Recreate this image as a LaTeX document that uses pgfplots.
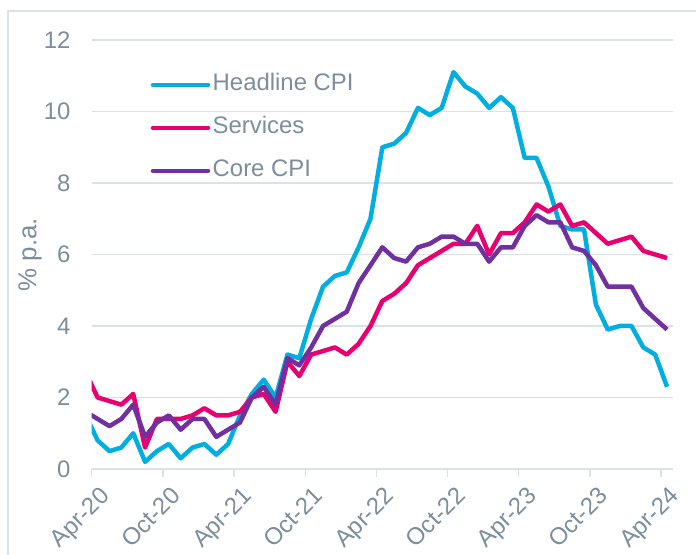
\documentclass[border=0pt]{standalone}
\usepackage{fontspec}
\setmainfont{Liberation Sans}
\usepackage{pgfplots}
\pgfplotsset{compat=1.18}
\definecolor{headc}{RGB}{0,174,224}
\definecolor{servc}{RGB}{232,0,112}
\definecolor{corec}{RGB}{112,48,160}
\definecolor{txtc}{RGB}{125,141,156}
\definecolor{gridc}{RGB}{220,225,230}
\begin{document}
\begin{tikzpicture}[x=1bp,y=1bp]
\begin{axis}[
  at={(91.7bp,86bp)}, anchor=south west,
  scale only axis, width=581.3bp, height=429bp,
  xmin=0, xmax=49, ymin=0, ymax=12,
  xtick={0,6,...,48},
  xticklabels={Apr-20,Oct-20,Apr-21,Oct-21,Apr-22,Oct-22,Apr-23,Oct-23,Apr-24},
  ytick={0,2,...,12},
  axis x line*=bottom, axis y line*=left,
  x axis line style={draw=gridc, line width=1.3bp},
  y axis line style={draw=none},
  xtick pos=bottom, xtick align=outside,
  major tick length=8bp,
  x tick style={draw=gridc, line width=1.3bp},
  y tick style={draw=none},
  ymajorgrids, grid style={draw=gridc, line width=1.3bp},
  /pgf/number format/assume math mode=true,
  tick label style={font=\fontsize{24}{28}\selectfont, text=txtc},
  yticklabel style={anchor=east, inner sep=0pt, xshift=-21bp},
  xticklabel style={rotate=45, anchor=north east, inner sep=0pt, xshift=-1bp, yshift=-11bp},
  ylabel={\% p.a.},
  every axis y label/.style={at={(axis description cs:-0.106,0.5)}, rotate=90, anchor=center, font=\fontsize{26}{30}\selectfont, text=txtc},
  legend style={draw=none, fill=none, at={(axis description cs:0.1012,0.9214)}, anchor=north west,
    inner sep=0pt, row sep=21bp, font=\fontsize{24}{28}\selectfont, text=txtc,
    nodes={inner sep=0pt, text height=17bp, text depth=5bp}},
  legend cell align=left,
  legend image code/.code={\draw[#1, line width=4.5bp, line cap=round] (0bp,0bp) -- (55bp,0bp);},
  /tikz/every odd column/.append style={column sep=2.5bp},
  every axis plot/.append style={line width=4.5bp, line join=round, no markers},
]
\addplot[headc] coordinates {
(-0.5,1.5)(0.5,0.8)(1.5,0.5)(2.5,0.6)(3.5,1.0)(4.5,0.2)(5.5,0.5)(6.5,0.7)(7.5,0.3)(8.5,0.6)
(9.5,0.7)(10.5,0.4)(11.5,0.7)(12.5,1.5)(13.5,2.1)(14.5,2.5)(15.5,2.0)(16.5,3.2)(17.5,3.1)(18.5,4.2)
(19.5,5.1)(20.5,5.4)(21.5,5.5)(22.5,6.2)(23.5,7.0)(24.5,9.0)(25.5,9.1)(26.5,9.4)(27.5,10.1)(28.5,9.9)
(29.5,10.1)(30.5,11.1)(31.5,10.7)(32.5,10.5)(33.5,10.1)(34.5,10.4)(35.5,10.1)(36.5,8.7)(37.5,8.7)(38.5,7.9)
(39.5,6.8)(40.5,6.7)(41.5,6.7)(42.5,4.6)(43.5,3.9)(44.5,4.0)(45.5,4.0)(46.5,3.4)(47.5,3.2)(48.5,2.3)
};
\addlegendentry{Headline CPI}
\addplot[servc] coordinates {
(-0.5,2.7)(0.5,2.0)(1.5,1.9)(2.5,1.8)(3.5,2.1)(4.5,0.6)(5.5,1.4)(6.5,1.4)(7.5,1.4)(8.5,1.5)
(9.5,1.7)(10.5,1.5)(11.5,1.5)(12.5,1.6)(13.5,2.0)(14.5,2.1)(15.5,1.6)(16.5,3.0)(17.5,2.6)(18.5,3.2)
(19.5,3.3)(20.5,3.4)(21.5,3.2)(22.5,3.5)(23.5,4.0)(24.5,4.7)(25.5,4.9)(26.5,5.2)(27.5,5.7)(28.5,5.9)
(29.5,6.1)(30.5,6.3)(31.5,6.3)(32.5,6.8)(33.5,6.0)(34.5,6.6)(35.5,6.6)(36.5,6.9)(37.5,7.4)(38.5,7.2)
(39.5,7.4)(40.5,6.8)(41.5,6.9)(42.5,6.6)(43.5,6.3)(44.5,6.4)(45.5,6.5)(46.5,6.1)(47.5,6.0)(48.5,5.9)
};
\addlegendentry{Services}
\addplot[corec] coordinates {
(-0.5,1.6)(0.5,1.4)(1.5,1.2)(2.5,1.4)(3.5,1.8)(4.5,0.9)(5.5,1.3)(6.5,1.5)(7.5,1.1)(8.5,1.4)
(9.5,1.4)(10.5,0.9)(11.5,1.1)(12.5,1.3)(13.5,2.0)(14.5,2.3)(15.5,1.8)(16.5,3.1)(17.5,2.9)(18.5,3.4)
(19.5,4.0)(20.5,4.2)(21.5,4.4)(22.5,5.2)(23.5,5.7)(24.5,6.2)(25.5,5.9)(26.5,5.8)(27.5,6.2)(28.5,6.3)
(29.5,6.5)(30.5,6.5)(31.5,6.3)(32.5,6.3)(33.5,5.8)(34.5,6.2)(35.5,6.2)(36.5,6.8)(37.5,7.1)(38.5,6.9)
(39.5,6.9)(40.5,6.2)(41.5,6.1)(42.5,5.7)(43.5,5.1)(44.5,5.1)(45.5,5.1)(46.5,4.5)(47.5,4.2)(48.5,3.9)
};
\addlegendentry{Core CPI}
\end{axis}
\draw[gridc, line width=1.5bp] (8bp,-5bp) -- (8bp,544bp) -- (700bp,544bp);
\pgfresetboundingbox
\useasboundingbox (0,0) rectangle (696bp,555bp);
\end{tikzpicture}
\end{document}
